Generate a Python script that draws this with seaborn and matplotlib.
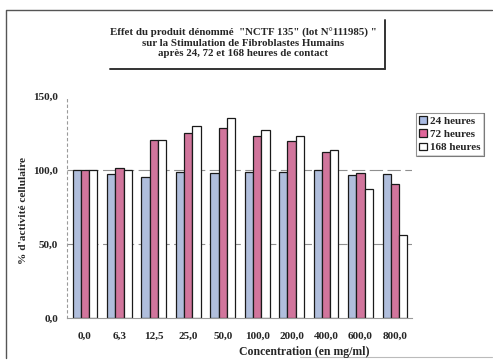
import matplotlib
matplotlib.use("Agg")
import matplotlib.pyplot as plt
import seaborn as sns
import pandas as pd
from matplotlib.patches import Patch
from matplotlib.lines import Line2D

concentrations = ["0,0", "6,3", "12,5", "25,0", "50,0", "100,0", "200,0", "400,0", "600,0", "800,0"]
h24 = [100, 97.5, 95.5, 98.5, 98, 99, 99, 100, 96.5, 97.5]
h72 = [100, 101.5, 120.5, 125.5, 128.5, 123.5, 120, 112.5, 98, 91]
h168 = [100, 100, 120.5, 130, 135.5, 127.5, 123, 114, 87.5, 56.5]
series = ["24 heures", "72 heures", "168 heures"]
colors = ["#a9bbe3", "#e0669a", "#ffffff"]
yticks = [0, 50, 100, 150]
ytick_labels = ["0,0", "50,0", "100,0", "150,0"]

df = pd.DataFrame({
    "conc": concentrations * 3,
    "val": h24 + h72 + h168,
    "serie": [series[0]] * 10 + [series[1]] * 10 + [series[2]] * 10,
})

sns.set_style("white")
plt.rcParams["font.family"] = ["Liberation Serif", "DejaVu Serif"]
plt.rcParams["font.weight"] = "bold"

W, H = 493, 361
fig = plt.figure(figsize=(W / 100, H / 100), dpi=100)
ax = fig.add_axes([0.136, 0.119, 0.700, 0.614])

for y in [50, 100]:
    ax.axhline(y, color="#8f8f8f", lw=0.8, ls=(0, (12, 4)), zorder=0)

sns.barplot(data=df, x="conc", y="val", hue="serie", order=concentrations,
            hue_order=series, palette=colors, edgecolor="#1a1a1a", linewidth=0.9,
            width=0.72, gap=0, ax=ax, legend=False, zorder=2)

ax.set_ylim(0, 150)
ax.set_xlim(-0.52, 9.5)
ax.set_yticks(yticks)
ax.set_yticklabels(ytick_labels, fontsize=8.1, fontweight="bold")
ax.set_xticks(range(len(concentrations)))
ax.set_xticklabels(concentrations, fontsize=8.1, fontweight="bold")
ax.tick_params(axis="x", pad=10, length=0)
ax.tick_params(axis="y", pad=6.5, length=0)
ax.set_xlabel("")
ax.set_ylabel("")
for s in ["top", "right"]:
    ax.spines[s].set_visible(False)
ax.spines["left"].set_color("#9a9a9a")
ax.spines["left"].set_linestyle((0, (2, 3)))
ax.spines["left"].set_linewidth(0.8)
ax.spines["bottom"].set_color("#9a9a9a")
ax.spines["bottom"].set_linewidth(0.8)

fig.text(24 / W, 1 - 210 / H, "% d'activité cellulaire", rotation=90, ha="center", va="center",
         fontsize=8.2, fontweight="bold")
fig.text(304 / W, 1 - 352 / H, "Concentration (en mg/ml)", ha="center", va="center",
         fontsize=8.5, fontweight="bold")

# title
title_lines = ['Effet du produit dénommé  "NCTF 135" (lot N°111985) "',
               "sur la Stimulation de Fibroblastes Humains",
               "après 24, 72 et 168 heures de contact"]
for i, t in enumerate(title_lines):
    fig.text(243 / W, 1 - (32.5 + 10.7 * i) / H, t, ha="center", va="center",
             fontsize=7.8, fontweight="bold")
fig.add_artist(Line2D([385 / W, 385 / W], [1 - 20 / H, 1 - 69 / H],
                      transform=fig.transFigure, color="#333333", lw=1.4))
fig.add_artist(Line2D([110 / W, 385 / W], [1 - 69 / H, 1 - 69 / H],
                      transform=fig.transFigure, color="#333333", lw=1.4))

# outer frame
fig.add_artist(Line2D([6 / W, 6 / W, 492 / W], [1 - 358 / H, 1 - 10 / H, 1 - 10 / H],
                      transform=fig.transFigure, color="#555555", lw=1.0))
fig.add_artist(Line2D([300 / W, 492 / W], [1 - 357 / H, 1 - 357 / H],
                      transform=fig.transFigure, color="#bbbbbb", lw=0.8))

# legend
handles = [Patch(facecolor=c, edgecolor="#1a1a1a", linewidth=0.9) for c in colors]
leg = fig.legend(handles, series, loc="upper left", bbox_to_anchor=(416 / W, 1 - 113 / H),
                 fontsize=8.0, frameon=True, fancybox=False, shadow=False,
                 handlelength=0.7, handleheight=0.7, handletextpad=0.3,
                 borderpad=0.3, labelspacing=0.3, borderaxespad=0)
leg.get_frame().set_edgecolor("#777777")
leg.get_frame().set_linewidth(0.8)
for t in leg.get_texts():
    t.set_fontweight("bold")
fig.canvas.draw()
bb = leg.get_window_extent().transformed(fig.transFigure.inverted())
fig.add_artist(Line2D([bb.x1, bb.x1, bb.x0 + 0.004], [bb.y1 - 0.004, bb.y0, bb.y0],
                      transform=fig.transFigure, color="#222222", lw=1.3))

fig.savefig("out.png", dpi=100)
